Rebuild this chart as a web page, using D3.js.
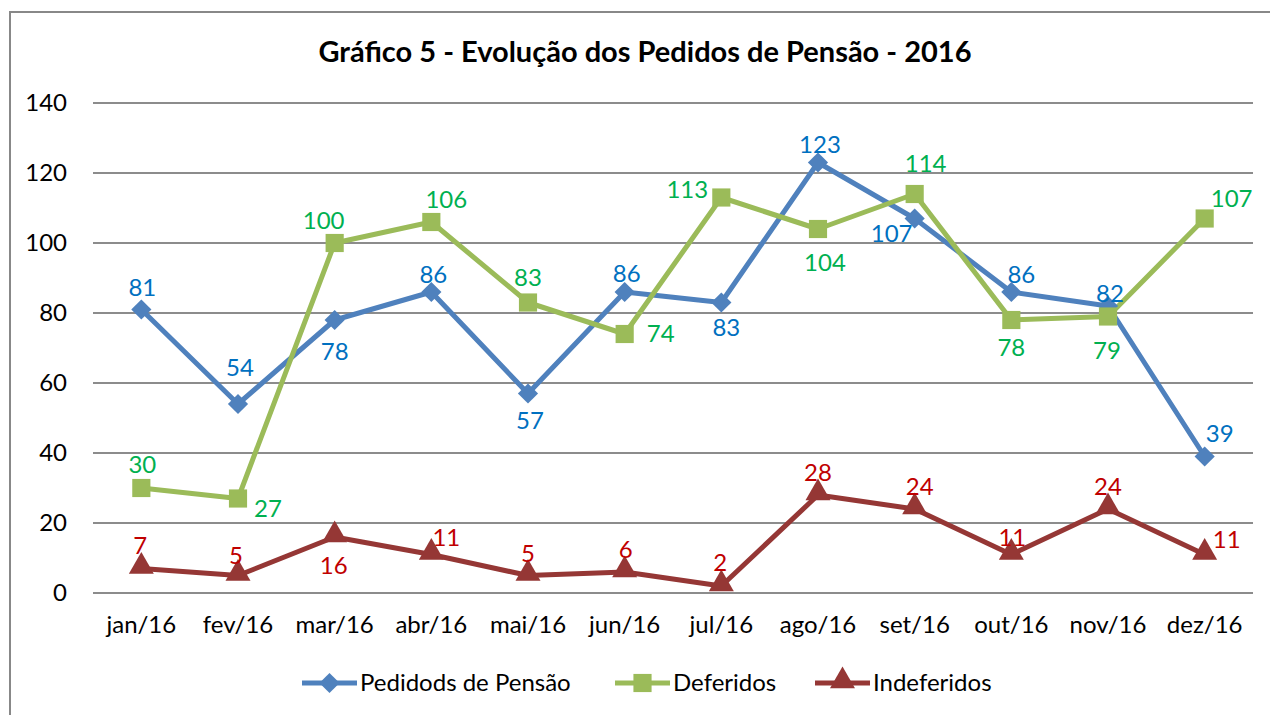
<!DOCTYPE html>
<html>
<head>
<meta charset="utf-8">
<script src="https://cdn.jsdelivr.net/npm/d3@7"></script>
<style>
  body { margin: 0; background: #fff; }
  text { font-family: Lato, "Open Sans", sans-serif; }
</style>
</head>
<body>
<script>
// Data
const months = ["jan/16", "fev/16", "mar/16", "abr/16", "mai/16", "jun/16",
    "jul/16", "ago/16", "set/16", "out/16", "nov/16", "dez/16"];
const pedidos = [81, 54, 78, 86, 57, 86, 83, 123, 107, 86, 82, 39];
const deferidos = [30, 27, 100, 106, 83, 74, 113, 104, 114, 78, 79, 107];
const indeferidos = [7, 5, 16, 11, 5, 6, 2, 28, 24, 11, 24, 11];
const yTicks = [0, 20, 40, 60, 80, 100, 120, 140];

// label offsets (dx, dy) as placed in the original
const pedidosLbl = [[1, -22], [2, -36], [0, 32], [2, -17], [2, 27], [2, -18],
    [5, 25], [2, -18], [-23, 15], [10, -17], [2, -12], [15, -23]];
const deferidosLbl = [[1, -23], [30, 10], [-11, -22], [15, -22], [0, -25], [36, 0],
    [-34, -8], [7, 34], [11, -30], [0, 28], [-1, 34], [27, -20]];
const indeferidosLbl = [[-1, -23], [-2, -20], [-1, 29], [15, -17], [0, -22], [1, -22],
    [-1, -23], [0, -22], [5, -22], [1, -17], [0, -22], [22, -15]];

const width = 1270;
const height = 715;
const plot = { left: 93, right: 1253, top: 103, bottom: 593 };
const fontSize = "24px";

const series = [
    { name: "Pedidods de Pensão", values: pedidos, lbl: pedidosLbl, color: "#4F81BD", text: "#0070C0", marker: "diamond" },
    { name: "Deferidos", values: deferidos, lbl: deferidosLbl, color: "#9BBB59", text: "#00B050", marker: "square" },
    { name: "Indeferidos", values: indeferidos, lbl: indeferidosLbl, color: "#953735", text: "#C00000", marker: "triangle" }
];

const svg = d3.select("body")
    .append("svg")
    .attr("width", width)
    .attr("height", height);

// chart border
svg.append("rect")
    .attr("x", 10)
    .attr("y", 12)
    .attr("width", width)
    .attr("height", height)
    .attr("fill", "#fff")
    .attr("stroke", "#888")
    .attr("stroke-width", 2);

// Scales
const xScale = d3.scaleBand()
    .domain(months)
    .range([plot.left, plot.right])
    .padding(0);
const xc = m => xScale(m) + xScale.bandwidth() / 2;

const yScale = d3.scaleLinear()
    .domain([0, 140])
    .range([plot.bottom, plot.top]);

// Title
svg.append("text")
    .attr("x", 645)
    .attr("y", 62)
    .attr("text-anchor", "middle")
    .style("font-weight", "bold")
    .style("font-size", "29px")
    .text("Gráfico 5 - Evolução dos Pedidos de Pensão - 2016");

// Gridlines
svg.append("g")
    .selectAll("line")
    .data(yTicks)
    .enter()
    .append("line")
    .attr("x1", plot.left)
    .attr("x2", plot.right)
    .attr("y1", d => yScale(d))
    .attr("y2", d => yScale(d))
    .attr("stroke", "#8c8c8c")
    .attr("stroke-width", 2);

// Axes
const yAxis = d3.axisLeft(yScale).tickValues(yTicks).tickSize(0).tickPadding(26);
const yAxisGroup = svg.append("g")
    .attr("transform", `translate(${plot.left},0)`)
    .call(yAxis);
yAxisGroup.select(".domain").remove();
yAxisGroup.selectAll("text")
    .style("font-family", "Lato, sans-serif")
    .style("font-size", fontSize)
    .attr("fill", "#000");

const xAxis = d3.axisBottom(xScale).tickSize(0).tickPadding(23);
const xAxisGroup = svg.append("g")
    .attr("transform", `translate(0,${plot.bottom})`)
    .call(xAxis);
xAxisGroup.select(".domain").remove();
xAxisGroup.selectAll("text")
    .style("font-family", "Lato, sans-serif")
    .style("font-size", fontSize)
    .attr("fill", "#000");

// Markers
const symbols = {
    diamond: d3.symbol().type(d3.symbolDiamond2).size(260),
    square: d3.symbol().type(d3.symbolSquare).size(330),
    triangle: d3.symbol().type(d3.symbolTriangle).size(270)
};

const line = d3.line()
    .x((d, i) => xc(months[i]))
    .y(d => yScale(d));

const linesGroup = svg.append("g");
series.forEach(s => {
    linesGroup.append("path")
        .datum(s.values)
        .attr("d", line)
        .attr("fill", "none")
        .attr("stroke", s.color)
        .attr("stroke-width", 5)
        .attr("stroke-linejoin", "round");
});

const markersGroup = svg.append("g");
series.forEach(s => {
    markersGroup.selectAll(".m-" + s.marker)
        .data(s.values)
        .enter()
        .append("path")
        .attr("class", "m-" + s.marker)
        .attr("d", symbols[s.marker])
        .attr("transform", (d, i) => `translate(${xc(months[i])},${yScale(d) + (s.marker === "triangle" ? -2 : 0)})`)
        .attr("fill", s.color);
});

// Data labels
const labelsGroup = svg.append("g");
series.forEach(s => {
    labelsGroup.selectAll(".l-" + s.marker)
        .data(s.values)
        .enter()
        .append("text")
        .attr("class", "l-" + s.marker)
        .attr("x", (d, i) => xc(months[i]) + s.lbl[i][0])
        .attr("y", (d, i) => yScale(d) + s.lbl[i][1])
        .attr("dy", "0.35em")
        .attr("text-anchor", "middle")
        .style("font-size", fontSize)
        .attr("fill", s.text)
        .text(d => d);
});

// Legend
const legendX = [302, 615, 815];
const legend = svg.append("g");
series.forEach((s, i) => {
    const g = legend.append("g").attr("transform", `translate(${legendX[i]},683)`);
    g.append("line")
        .attr("x1", 0)
        .attr("x2", 55)
        .attr("stroke", s.color)
        .attr("stroke-width", 5);
    g.append("path")
        .attr("d", symbols[s.marker])
        .attr("transform", `translate(27.5,${s.marker === "triangle" ? -2 : 0})`)
        .attr("fill", s.color);
    g.append("text")
        .attr("x", 58)
        .attr("dy", "0.35em")
        .style("font-size", fontSize)
        .attr("fill", "#000")
        .text(s.name);
});
</script>
</body>
</html>
